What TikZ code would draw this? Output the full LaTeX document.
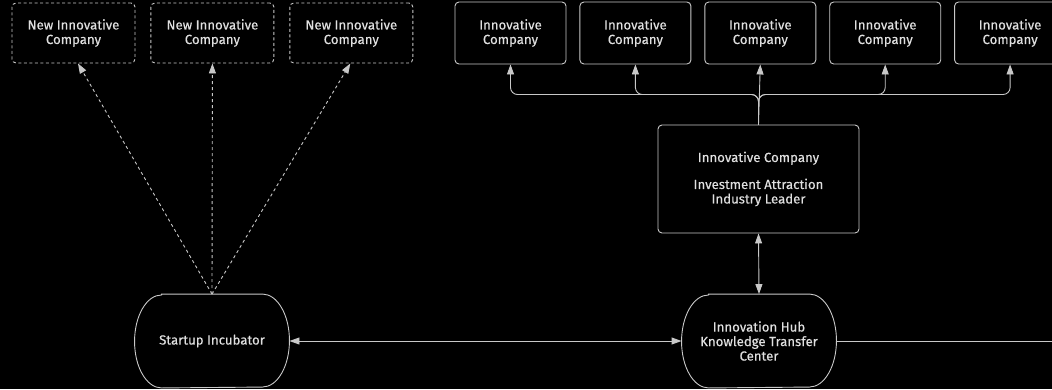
\documentclass[tikz,border=0pt]{standalone}
\usepackage{fontspec}
\setsansfont{Fira Sans}[FakeBold=0.25]
\usetikzlibrary{positioning, arrows.meta}
\definecolor{edgegray}{HTML}{C8C8C8}
\definecolor{labelgray}{HTML}{E0E0E0}

\begin{document}
\begin{tikzpicture}[x=1pt,y=-1pt,
	box/.style={draw=edgegray,line width=0.9pt,rounded corners=4pt,inner sep=0pt,align=center,text=labelgray,font=\sffamily\fontsize{13.2}{14.5}\selectfont},
	newbox/.style={box,dash pattern=on 3pt off 2.5pt,minimum width=123pt,minimum height=60pt},
	compbox/.style={box,minimum width=111pt,minimum height=62pt},
	leadbox/.style={box,minimum width=201pt,minimum height=108pt},
	roundbox/.style={box,draw=none,minimum width=154pt,minimum height=93pt},
	outline/.style={draw=edgegray,line width=0.9pt},
	tip/.style={outline,-{Triangle[width=7pt,length=10pt,fill=edgegray]}},
	twotip/.style={outline,{Triangle[width=7pt,length=10pt,fill=edgegray]}-{Triangle[width=7pt,length=10pt,fill=edgegray]}},
	dashtip/.style={tip,dash pattern=on 3pt off 3pt}]
	\path[use as bounding box,fill=black] (0,0) rectangle (1052,389);
	\clip (0,0) rectangle (1052,389);
	% new companies
	\node[newbox] (new_0) at (73.5,33) {New Innovative\\Company};
	\node[newbox] (new_1) [right=15pt of new_0] {New Innovative\\Company};
	\node[newbox] (new_2) [right=15pt of new_1] {New Innovative\\Company};
	% companies
	\node[compbox] (comp_0) at (510.5,33) {Innovative\\Company};
	\node[compbox] (comp_1) [right=13pt of comp_0] {Innovative\\Company};
	\node[compbox] (comp_2) [right=13pt of comp_1] {Innovative\\Company};
	\node[compbox] (comp_3) [right=13pt of comp_2] {Innovative\\Company};
	\node[compbox] (comp_4) [right=13pt of comp_3] {Innovative\\Company};
	\node[leadbox] (lead) at (758.5,179) {Innovative Company\\[12.5pt]Investment Attraction\\Industry Leader};
	\node[roundbox] (incub) at (212,341) {Startup Incubator};
	\node[roundbox] (hub) at (759,341) {Innovation Hub\\Knowledge Transfer\\Center};
	% bulging outlines
	\draw[outline] ([xshift=27pt]incub.north west) -- ([xshift=-27pt]incub.north east)
	arc[start angle=90,end angle=-90,x radius=27pt,y radius=46.5pt]
	-- ([xshift=27pt]incub.south west)
	arc[start angle=270,end angle=90,x radius=27pt,y radius=46.5pt] -- cycle;
	\draw[outline] ([xshift=27pt]hub.north west) -- ([xshift=-27pt]hub.north east)
	arc[start angle=90,end angle=-90,x radius=27pt,y radius=46.5pt]
	-- ([xshift=27pt]hub.south west)
	arc[start angle=270,end angle=90,x radius=27pt,y radius=46.5pt] -- cycle;
	\coordinate (fork) at (758.5,94.5);
	\coordinate (hub_out) at (1060,341);
	\path
	(incub.north) edge[dashtip] ([xshift=4.5pt]new_0.south)
	(incub.north) edge[dashtip] (new_1.south)
	(incub.north) edge[dashtip] ([xshift=-1pt]new_2.south)
	;
	\draw[tip,rounded corners=7pt] (lead.north) -- (fork) -| (comp_0.south);
	\draw[tip,rounded corners=7pt] (lead.north) -- (fork) -| (comp_1.south);
	\draw[tip] (lead.north) -- (comp_2.south);
	\draw[tip,rounded corners=7pt] (lead.north) -- (fork) -| (comp_3.south);
	\draw[tip,rounded corners=7pt] (lead.north) -- (fork) -| (comp_4.south);
	\draw[twotip] (lead.south) -- (hub.north);
	\draw[twotip] (incub.east) -- (hub.west);
	\draw[outline] (hub.east) -- (hub_out);
\end{tikzpicture}
\end{document}
